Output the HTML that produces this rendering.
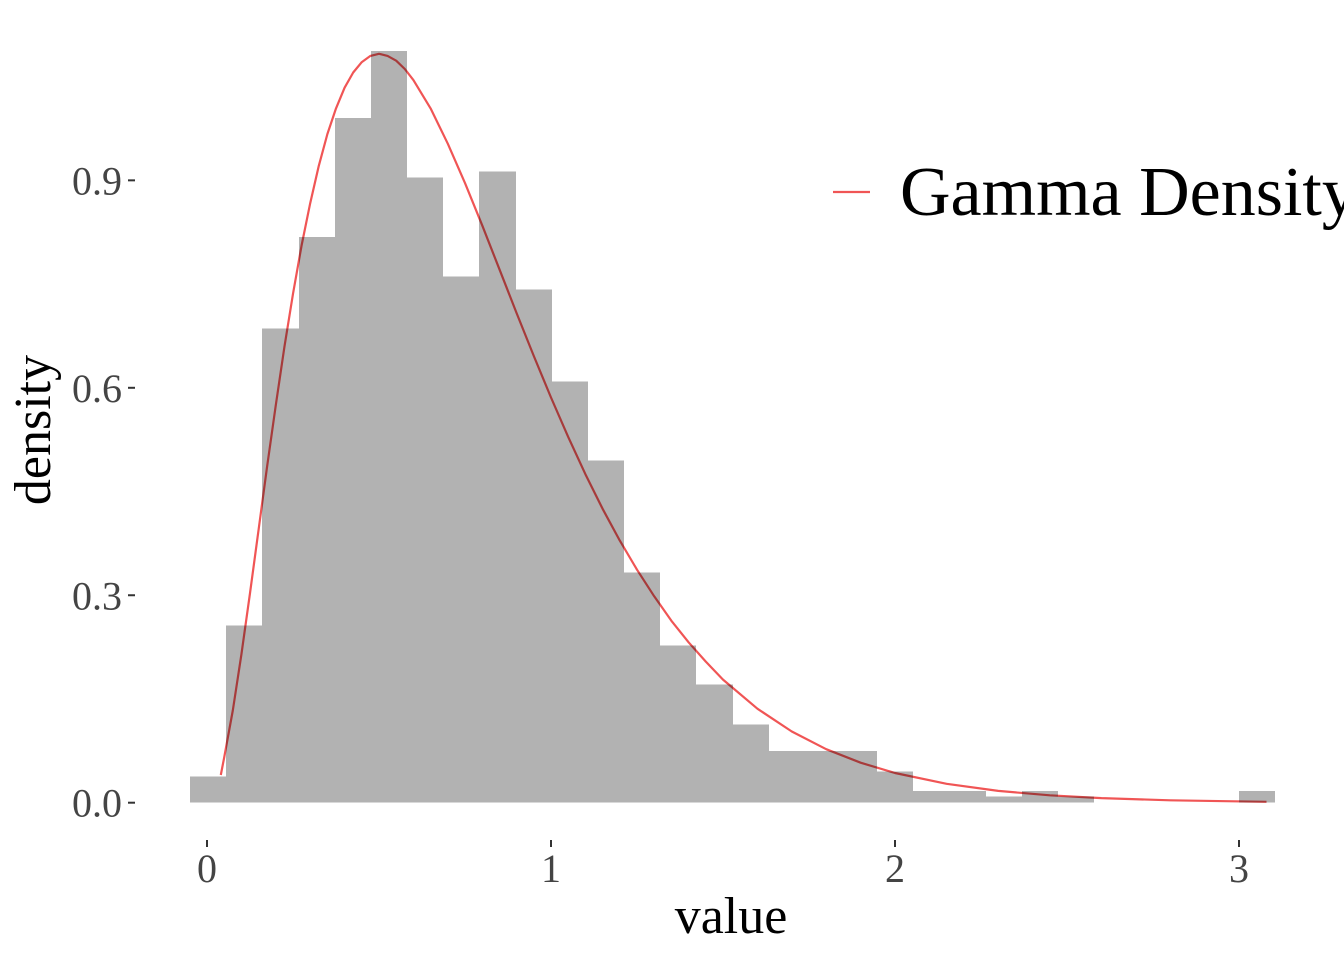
<!DOCTYPE html>
<html><head><meta charset="utf-8"><style>
html,body{margin:0;padding:0;background:#fff;overflow:hidden;}
svg{display:block;font-family:"Liberation Serif",serif;}
</style></head><body>
<svg id="chart" width="1344" height="960">
<g id="curve"></g>
<g id="bars"></g>
<g id="axes"></g>
<text x="50" y="430" font-size="52" text-anchor="middle" transform="rotate(-90 50 430)" fill="#000">density</text>
<text x="731" y="933" font-size="52" text-anchor="middle" fill="#000">value</text>
<g>
<line x1="833" y1="192" x2="870" y2="192" stroke="#F05555" stroke-width="2.2"/>
<text x="900" y="215" font-size="70" fill="#000">Gamma Density</text>
</g>
</svg>
<script>
const binStart = -0.049;
const binWidth = 0.10513;
const densities = [0.038,0.256,0.686,0.818,0.990,1.087,0.904,0.761,0.913,0.742,0.609,0.495,0.333,0.227,0.171,0.113,0.075,0.075,0.075,0.045,0.017,0.017,0.009,0.017,0.009,0,0,0,0,0.017];
const curveX = [0.04,0.05,0.075,0.1,0.125,0.15,0.175,0.2,0.225,0.25,0.275,0.3,0.325,0.35,0.375,0.4,0.425,0.45,0.475,0.5,0.525,0.55,0.575,0.6,0.65,0.7,0.75,0.8,0.85,0.9,0.95,1.0,1.05,1.1,1.15,1.2,1.25,1.3,1.35,1.4,1.45,1.5,1.6,1.7,1.8,1.9,2.0,2.15,2.3,2.45,2.6,2.8,3.08];
const curveY = [0.04,0.0655,0.1333,0.2145,0.303,0.395,0.487,0.575,0.659,0.736,0.806,0.867,0.921,0.967,1.004,1.034,1.056,1.071,1.080,1.083,1.080,1.073,1.061,1.045,1.004,0.953,0.896,0.835,0.7715,0.708,0.646,0.586,0.529,0.475,0.425,0.379,0.337,0.2985,0.263,0.232,0.204,0.178,0.136,0.103,0.0774,0.0578,0.0429,0.0273,0.0171,0.0107,0.0066,0.0034,0.0013];
const xTicks = [0,1,2,3];
const xTickLabels = ["0","1","2","3"];
const yTicks = [0,0.3,0.6,0.9];
const yTickLabels = ["0.0","0.3","0.6","0.9"];

const NS = "http://www.w3.org/2000/svg";
const sx = v => 207 + v*344;
const sy = v => 802.7 - v*691.5;
function mk(tag, attrs, parent){const e=document.createElementNS(NS,tag);for(const k in attrs)e.setAttribute(k,attrs[k]);parent.appendChild(e);return e;}

const curveG = document.getElementById('curve');
let d = curveX.map((x,i)=>(i?'L':'M')+sx(x).toFixed(1)+','+sy(curveY[i]).toFixed(1)).join(' ');
const path = mk('path',{d:d,fill:'none',stroke:'#F05555','stroke-width':2.2,'stroke-linejoin':'round'},curveG);



const barsG = document.getElementById('bars');
densities.forEach((v,i)=>{
  if(v<=0) return;
  const x0 = Math.round(sx(binStart+i*binWidth)), x1 = Math.round(sx(binStart+(i+1)*binWidth));
  const r = mk('rect',{x:x0,y:sy(v),width:x1-x0,height:sy(0)-sy(v),fill:'rgba(0,0,0,0.3)','shape-rendering':'crispEdges'},barsG);
  
  
});

const axesG = document.getElementById('axes');
yTicks.forEach((v,i)=>{
  const l = mk('line',{x1:128,x2:135,y1:sy(v),y2:sy(v),stroke:'#333','stroke-width':2},axesG);
  
  
  const t = mk('text',{x:122,y:sy(v)+14,'font-size':40,'text-anchor':'end',fill:'#444'},axesG);
  t.textContent = yTickLabels[i];
  
  
});
xTicks.forEach((v,i)=>{
  const l = mk('line',{x1:sx(v),x2:sx(v),y1:840,y2:847,stroke:'#333','stroke-width':2},axesG);
  
  
  const t = mk('text',{x:sx(v),y:882,'font-size':40,'text-anchor':'middle',fill:'#444'},axesG);
  t.textContent = xTickLabels[i];
  
  
});
</script>
</body></html>
